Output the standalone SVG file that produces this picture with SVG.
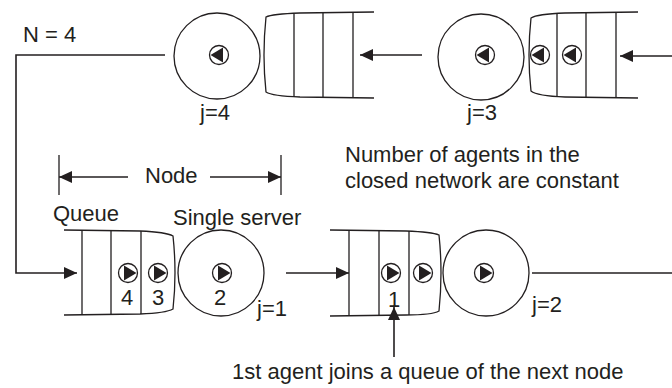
<svg xmlns="http://www.w3.org/2000/svg" width="672" height="388" viewBox="0 0 672 388">
  <style>
    .ln { fill: none; stroke: #231f20; stroke-width: 1.6; }
    .sh { fill: none; stroke: #231f20; stroke-width: 1.3; }
    .tx { font-family: "Liberation Sans", Arial, sans-serif; font-size: 22px; fill: #231f20; }
    .ag circle { fill: #fff; stroke: #231f20; stroke-width: 1.3; }
    .ag path { fill: #231f20; }
  </style>
  <defs>
    <marker id="ah" markerWidth="14" markerHeight="12" refX="13" refY="6" orient="auto" markerUnits="userSpaceOnUse">
      <path d="M0,0 L13,6 L0,12 z" fill="#231f20"/>
    </marker>
    <!-- agent token, moving right -->
    <g id="agR" class="ag">
      <circle r="9.5"/>
      <path d="M-4,-7.5 L8.5,0 L-4,7.5 z"/>
    </g>
    <!-- agent token, moving left -->
    <g id="agL" class="ag">
      <circle r="9.5"/>
      <path d="M4,-7.5 L-8.5,0 L4,7.5 z"/>
    </g>
  </defs>
  <rect width="672" height="388" fill="#fff"/>

  <!-- node j=4 -->
  <g id="node-j4">
    <circle class="sh" cx="217" cy="56" r="43"/>
    <use href="#agL" x="219" y="55"/>
    <path class="sh" d="M374,12 L300,13 Q272,14 266,17 Q262,55 266,92 Q272,96 300,97 L374,98"/>
    <path class="sh" d="M294,14 V97 M323,13 V97 M353,12 V98"/>
    <text class="tx" x="200" y="120">j=4</text>
  </g>

  <!-- node j=3 -->
  <g id="node-j3">
    <circle class="sh" cx="481" cy="57" r="43"/>
    <use href="#agL" x="485" y="55"/>
    <path class="sh" d="M638,12 L565,13 Q537,14 531,18 Q527,55 531,91 Q537,96 565,97 L638,98"/>
    <path class="sh" d="M557,14 V97 M586,13 V97 M616,12 V98"/>
    <use href="#agL" x="540" y="55"/>
    <use href="#agL" x="572" y="55"/>
    <text class="tx" x="467" y="120">j=3</text>
  </g>

  <!-- node j=1 -->
  <g id="node-j1">
    <path class="sh" d="M64,230 L140,231 Q166,232 173,236 Q177,273 173,309 Q166,313 140,314 L64,315"/>
    <path class="sh" d="M82,230 V315 M111,231 V315 M141,231 V314"/>
    <use href="#agR" x="128" y="273"/>
    <use href="#agR" x="158" y="273"/>
    <circle class="sh" cx="221" cy="273" r="43"/>
    <use href="#agR" x="222" y="273"/>
    <text class="tx" x="121" y="305">4</text>
    <text class="tx" x="152" y="305">3</text>
    <text class="tx" x="214" y="305">2</text>
    <text class="tx" x="257" y="316">j=1</text>
  </g>

  <!-- node j=2 -->
  <g id="node-j2">
    <path class="sh" d="M330,230 L406,231 Q432,232 439,235 Q443,273 439,311 Q432,315 406,315 L330,316"/>
    <path class="sh" d="M349,230 V316 M379,231 V316 M409,231 V315"/>
    <use href="#agR" x="391" y="273"/>
    <use href="#agR" x="423" y="273"/>
    <circle class="sh" cx="486" cy="273" r="43"/>
    <use href="#agR" x="484" y="273"/>
    <text class="tx" x="388" y="307">1</text>
    <text class="tx" x="532" y="312">j=2</text>
  </g>

  <!-- connectors -->
  <g id="connectors">
    <path class="ln" d="M672,56 H620" marker-end="url(#ah)"/>
    <path class="ln" d="M422,55 H360" marker-end="url(#ah)"/>
    <path class="ln" d="M165,55 H16 V273 H77" marker-end="url(#ah)"/>
    <path class="ln" d="M286,273 H349" marker-end="url(#ah)"/>
    <path class="ln" d="M532,273 H672"/>
    <path class="ln" d="M394,357 V307" marker-end="url(#ah)"/>
  </g>

  <!-- node extent bracket -->
  <g id="node-bracket">
    <path class="sh" d="M59,155 V195 M281,155 V195"/>
    <path class="sh" d="M128,177 H59" marker-end="url(#ah)"/>
    <path class="sh" d="M210,177 H281" marker-end="url(#ah)"/>
    <text class="tx" x="145" y="183">Node</text>
  </g>

  <!-- labels -->
  <g id="labels">
    <text class="tx" x="23" y="42">N = 4</text>
    <text class="tx" x="53" y="221">Queue</text>
    <text class="tx" x="173" y="225">Single server</text>
    <text class="tx" x="345" y="162">Number of agents in the</text>
    <text class="tx" x="345" y="188">closed network are constant</text>
    <text class="tx" x="232" y="379">1st agent joins a queue of the next node</text>
  </g>
</svg>
